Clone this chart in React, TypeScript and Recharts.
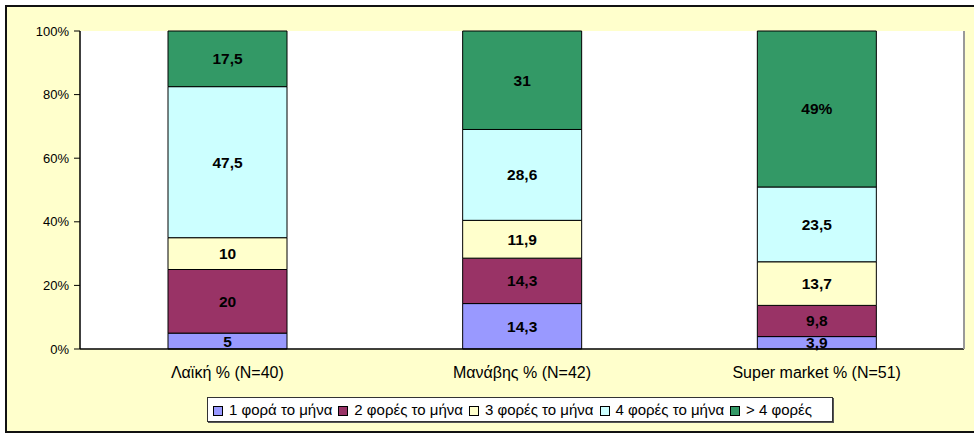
import { BarChart, Bar, XAxis, YAxis, Legend, LabelList, CartesianGrid } from "recharts";

const categories = ["Λαϊκή % (N=40)", "Μανάβης % (N=42)", "Super market % (N=51)"];
const seriesNames = ["1 φορά το μήνα", "2 φορές το μήνα", "3 φορές το μήνα", "4 φορές το μήνα", "> 4 φορές"];
const seriesColors = ["#9999FF", "#993366", "#FFFFCC", "#CCFFFF", "#339966"];

const once = [5, 14.3, 3.9];
const twice = [20, 14.3, 9.8];
const thrice = [10, 11.9, 13.7];
const fourTimes = [47.5, 28.6, 23.5];
const moreThanFour = [17.5, 31, 49];
const moreThanFourLabels = ["17,5", "31", "49%"];

const yTicks = [0, 0.2, 0.4, 0.6, 0.8, 1];

const seriesValues = [once, twice, thrice, fourTimes, moreThanFour];
const fmt = (v: number) => String(v).replace(".", ",");

const data = categories.map((name, i) => {
  const row: Record<string, string | number> = { name };
  seriesValues.forEach((vals, s) => {
    row[`s${s}`] = vals[i];
    row[`l${s}`] = s === 4 ? moreThanFourLabels[i] : fmt(vals[i]);
  });
  return row;
});

const FONT = "'Liberation Sans', Arial, sans-serif";

function ExcelLegend() {
  return (
    <div
      style={{
        width: 626,
        height: 25,
        boxSizing: "border-box",
        background: "#fff",
        border: "1px solid #333",
        boxShadow: "1px 1px 0 #555",
        display: "flex",
        alignItems: "center",
        paddingLeft: 5,
        fontFamily: FONT,
        fontSize: 15,
        color: "#000",
        whiteSpace: "nowrap",
      }}
    >
      {seriesNames.map((n, i) => (
        <span key={n} style={{ display: "flex", alignItems: "center", marginRight: 6 }}>
          <span
            style={{
              display: "inline-block",
              width: 8,
              height: 8,
              background: seriesColors[i],
              border: "1px solid #000",
              marginRight: 6,
              marginTop: 2,
            }}
          />
          {n}
        </span>
      ))}
    </div>
  );
}

export default function App() {
  return (
    <div style={{ position: "absolute", left: 0, top: 0, width: 974, height: 433, background: "#fff", overflow: "hidden" }}>
      <div
        style={{
          position: "absolute",
          left: 5,
          top: 5,
          width: 980,
          height: 428,
          boxSizing: "border-box",
          border: "2px solid #111",
          background: "#FFFFCC",
        }}
      />
      <div style={{ position: "absolute", left: 0, top: 0 }}>
        <BarChart
          width={974}
          height={433}
          data={data}
          stackOffset="expand"
          margin={{ top: 31, right: 0, left: 0, bottom: 0 }}
          barSize={119}
        >
          <CartesianGrid fill="#fff" horizontal={false} vertical={false} />
          <XAxis
            dataKey="name"
            height={84}
            tickLine={false}
            axisLine={{ stroke: "#000", strokeWidth: 1.5 }}
            tickMargin={12}
            tick={{ fontSize: 16, fill: "#000", fontFamily: FONT }}
          />
          <XAxis xAxisId="top" orientation="top" dataKey="name" height={0} tick={false} tickLine={false} axisLine={{ stroke: "#999" }} />
          <YAxis
            width={80}
            ticks={yTicks}
            domain={[0, 1]}
            tickFormatter={(v: number) => `${Math.round(v * 100)}%`}
            tickSize={6}
            tickMargin={5}
            tickLine={{ stroke: "#000" }}
            axisLine={{ stroke: "#000", strokeWidth: 1.5 }}
            tick={{ fontSize: 13, fill: "#000", fontFamily: FONT }}
          />
          <YAxis yAxisId="right" orientation="right" width={10} tick={false} tickLine={false} axisLine={{ stroke: "#999", strokeWidth: 2 }} />
          <Legend
            layout="horizontal"
            verticalAlign="middle"
            align="center"
            content={() => <ExcelLegend />}
            wrapperStyle={{ left: 207, top: 397, width: 626, height: 25 }}
          />
          {seriesNames.map((n, s) => (
            <Bar
              key={n}
              dataKey={`s${s}`}
              name={n}
              stackId="a"
              fill={seriesColors[s]}
              stroke="#000"
              strokeWidth={1}
              isAnimationActive={false}
            >
              <LabelList
                dataKey={`l${s}`}
                position="center"
                fill="#000"
                style={{ fontSize: 15.5, fontWeight: "bold", fontFamily: FONT }}
              />
            </Bar>
          ))}
        </BarChart>
      </div>
    </div>
  );
}
